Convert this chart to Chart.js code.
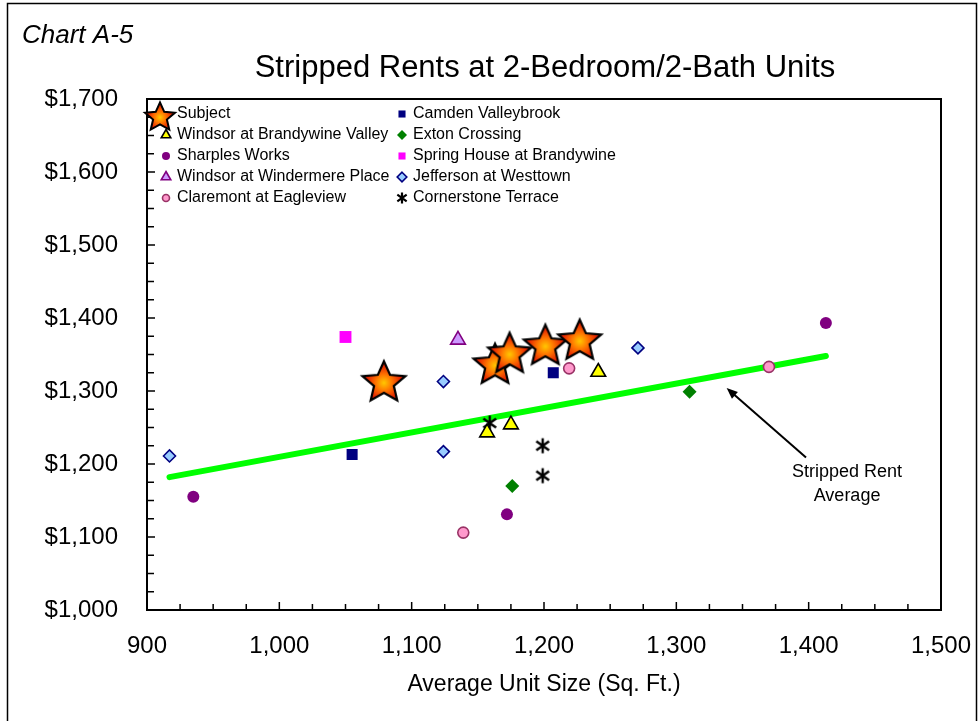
<!DOCTYPE html>
<html>
<head>
<meta charset="utf-8">
<title>Stripped Rents at 2-Bedroom/2-Bath Units</title>
<script src="https://cdn.jsdelivr.net/npm/chart.js@4/dist/chart.umd.min.js"></script>
<style>
  html, body { margin: 0; padding: 0; background: #fff; }
  canvas { display: block; }
</style>
</head>
<body>
<canvas id="chart" width="980" height="721"></canvas>
<script>
const FONT = 'Arial, "Liberation Sans", sans-serif';

// Each property: [average unit size (sq. ft.), stripped rent ($)]
const subject            = [[1079, 1314], [1163, 1338], [1174, 1353], [1201, 1364], [1227, 1371]];
const windsorBrandywine  = [[1241, 1326], [1157, 1243], [1175, 1254]];
const sharplesWorks      = [[935, 1155], [1172, 1131], [1413, 1393]];
const windsorWindermere  = [[1135, 1370]];
const claremontEagleview = [[1219, 1331], [1139, 1106], [1370, 1333]];
const camdenValleybrook  = [[1207, 1325], [1055, 1213]];
const extonCrossing      = [[1176, 1170], [1310, 1299]];
const springHouse        = [[1050, 1374]];
const jeffersonWesttown  = [[1271, 1359], [1124, 1313], [917, 1211], [1124, 1217]];
const cornerstoneTerrace = [[1159, 1256], [1199, 1225], [1199, 1184]];

// Stripped rent average (trend), end points
const rentAverage = [[917, 1182], [1413, 1348]];

// Axis ticks
const xTickValues = [900, 1000, 1100, 1200, 1300, 1400, 1500];
const yTickValues = [1000, 1100, 1200, 1300, 1400, 1500, 1600, 1700];

// Callout for the average line (in axis units)
const calloutArrow = { from: [1398, 1209], to: [1338, 1304] };
const calloutText = ['Stripped Rent', 'Average'];
const calloutAt = [1429, 1189];

const toPoints = arr => arr.map(([x, y]) => ({ x, y }));

// ---------- custom marker images ----------
function starMarker(r, lw) {
  const s = Math.ceil(2 * r + 2 * lw + 4);
  const c = document.createElement('canvas');
  c.width = s; c.height = s;
  const g = c.getContext('2d');
  const cx = s / 2, cy = s / 2 + r * 0.095;
  g.beginPath();
  for (let i = 0; i < 10; i++) {
    const rr = i % 2 ? r * 0.46 : r;
    const a = -Math.PI / 2 + i * Math.PI / 5;
    g.lineTo(cx + rr * Math.cos(a) * 1.05, cy + rr * Math.sin(a));
  }
  g.closePath();
  const grad = g.createRadialGradient(cx, cy, 0, cx, cy, r * 0.8);
  grad.addColorStop(0, '#FFC800');
  grad.addColorStop(0.45, '#FF7A00');
  grad.addColorStop(1, '#E62200');
  g.fillStyle = grad;
  g.fill();
  g.lineWidth = lw;
  g.strokeStyle = '#000';
  g.lineJoin = 'miter';
  g.stroke();
  return c;
}

function asteriskMarker(h, lw) {
  const s = Math.ceil(h + lw * 2);
  const c = document.createElement('canvas');
  c.width = s; c.height = s;
  const g = c.getContext('2d');
  const m = s / 2, k = h / 2;
  g.strokeStyle = '#000';
  g.lineWidth = lw;
  g.beginPath();
  g.moveTo(m, m - k); g.lineTo(m, m + k);
  g.moveTo(m - k * 0.85, m - k * 0.6); g.lineTo(m + k * 0.85, m + k * 0.6);
  g.moveTo(m + k * 0.85, m - k * 0.6); g.lineTo(m - k * 0.85, m + k * 0.6);
  g.stroke();
  return c;
}

const bigStar = starMarker(21.5, 2.2);
const legendStar = starMarker(15, 2);
const asterisk = asteriskMarker(15, 2.4);
const legendAsterisk = asteriskMarker(11, 2.2);

// ---------- series ----------
const series = [
  { label: 'Subject', data: subject, pointStyle: bigStar, legendStyle: legendStar, radius: 21, legendRadius: 15, bg: '#FF8C00', border: '#000', bw: 0 },
  { label: 'Windsor at Brandywine Valley', data: windsorBrandywine, pointStyle: 'triangle', radius: 8.5, legendRadius: 5.5, bg: '#FFFF00', border: '#000', bw: 1.6 },
  { label: 'Sharples Works', data: sharplesWorks, pointStyle: 'circle', radius: 6, legendRadius: 4, bg: '#800080', border: '#800080', bw: 0 },
  { label: 'Windsor at Windermere Place', data: windsorWindermere, pointStyle: 'triangle', radius: 8.5, legendRadius: 5.5, bg: '#CC99FF', border: '#800080', bw: 1.6 },
  { label: 'Claremont at Eagleview', data: claremontEagleview, pointStyle: 'circle', radius: 5.5, legendRadius: 3.5, bg: '#FF99CC', border: '#993366', bw: 1.6 },
  { label: 'Camden Valleybrook', data: camdenValleybrook, pointStyle: 'rect', radius: 7.8, legendRadius: 5, bg: '#000080', border: '#000080', bw: 0 },
  { label: 'Exton Crossing', data: extonCrossing, pointStyle: 'rectRot', radius: 7, legendRadius: 5, bg: '#008000', border: '#008000', bw: 0 },
  { label: 'Spring House at Brandywine', data: springHouse, pointStyle: 'rect', radius: 8.4, legendRadius: 5, bg: '#FF00FF', border: '#FF00FF', bw: 0 },
  { label: 'Jefferson at Westtown', data: jeffersonWesttown, pointStyle: 'rectRot', radius: 6, legendRadius: 4.8, bg: '#99CCFF', border: '#000080', bw: 1.6 },
  { label: 'Cornerstone Terrace', data: cornerstoneTerrace, pointStyle: asterisk, legendStyle: legendAsterisk, radius: 7, legendRadius: 5, bg: '#000', border: '#000', bw: 0 }
];

const datasets = series.map(s => ({
  label: s.label,
  data: toPoints(s.data),
  pointStyle: s.pointStyle,
  pointRadius: s.radius,
  pointHoverRadius: s.radius,
  backgroundColor: s.bg,
  borderColor: s.border,
  borderWidth: s.bw,
  order: 0
}));

datasets.push({
  label: 'Stripped Rent Average',
  data: toPoints(rentAverage),
  showLine: true,
  borderColor: '#00FF00',
  borderWidth: 6,
  borderCapStyle: 'round',
  pointRadius: 0,
  pointHoverRadius: 0,
  order: 1
});

// ---------- drawing helpers ----------
function drawMarker(ctx, s, x, y) {
  const style = s.legendStyle || s.pointStyle;
  const r = s.legendRadius;
  ctx.save();
  if (typeof style !== 'string') {
    ctx.drawImage(style, x - style.width / 2, y - style.height / 2);
    ctx.restore();
    return;
  }
  ctx.fillStyle = s.bg;
  ctx.strokeStyle = s.border;
  ctx.lineWidth = s.bw;
  ctx.beginPath();
  if (style === 'circle') {
    ctx.arc(x, y, r, 0, Math.PI * 2);
  } else if (style === 'rect') {
    const h = r * Math.SQRT1_2;
    ctx.rect(x - h, y - h, 2 * h, 2 * h);
  } else if (style === 'rectRot') {
    ctx.moveTo(x, y - r); ctx.lineTo(x + r, y); ctx.lineTo(x, y + r); ctx.lineTo(x - r, y);
    ctx.closePath();
  } else if (style === 'triangle') {
    for (let i = 0; i < 3; i++) {
      const a = -Math.PI / 2 + i * 2 * Math.PI / 3;
      ctx.lineTo(x + r * Math.cos(a), y + r * Math.sin(a));
    }
    ctx.closePath();
  }
  ctx.fill();
  if (s.bw > 0) ctx.stroke();
  ctx.restore();
}

const decorations = {
  id: 'decorations',
  beforeDraw(chart) {
    const ctx = chart.ctx;
    ctx.save();
    ctx.fillStyle = '#fff';
    ctx.fillRect(0, 0, chart.width, chart.height);
    ctx.strokeStyle = '#000';
    ctx.lineWidth = 1.5;
    ctx.strokeRect(7.5, 3.5, 969, 740);
    ctx.fillStyle = '#000';
    ctx.textBaseline = 'middle';
    ctx.textAlign = 'left';
    ctx.font = 'italic 26px ' + FONT;
    ctx.fillText('Chart A-5', 22, 36);
    ctx.textAlign = 'center';
    ctx.font = '31px ' + FONT;
    ctx.fillText('Stripped Rents at 2-Bedroom/2-Bath Units', 545, 68);
    ctx.restore();
  },
  beforeDatasetsDraw(chart) {
    const { ctx, chartArea: a, scales: { x, y } } = chart;
    ctx.save();
    ctx.strokeStyle = '#000';
    ctx.lineWidth = 2;
    ctx.strokeRect(a.left, a.top, a.right - a.left, a.bottom - a.top);
    ctx.lineWidth = 1.5;
    ctx.beginPath();
    for (let v = y.min; v <= y.max; v += 25) {
      const p = y.getPixelForValue(v);
      ctx.moveTo(a.left, p);
      ctx.lineTo(a.left + (v % 100 === 0 ? 8 : 7), p);
    }
    for (let v = x.min; v <= x.max; v += 25) {
      const p = x.getPixelForValue(v);
      ctx.moveTo(p, a.bottom);
      ctx.lineTo(p, a.bottom - (v % 100 === 0 ? 8 : 6));
    }
    ctx.stroke();
    ctx.restore();
  },
  afterDatasetsDraw(chart) {
    const { ctx, scales: { x, y } } = chart;
    ctx.save();
    // legend, two columns
    ctx.font = '16px ' + FONT;
    ctx.fillStyle = '#000';
    ctx.textBaseline = 'middle';
    ctx.textAlign = 'left';
    series.forEach((s, i) => {
      const col = Math.floor(i / 5), row = i % 5;
      const ty = 114 + row * 21;
      const mx = col === 0 ? 166 : 402;
      const tx = col === 0 ? 177 : 413;
      if (i === 0) drawMarker(ctx, s, 160, ty + 2);
      else drawMarker(ctx, s, mx, ty);
      ctx.fillStyle = '#000';
      ctx.fillText(s.label, tx, ty);
    });

    // callout arrow to the average line
    const x1 = x.getPixelForValue(calloutArrow.from[0]), y1 = y.getPixelForValue(calloutArrow.from[1]);
    const x2 = x.getPixelForValue(calloutArrow.to[0]), y2 = y.getPixelForValue(calloutArrow.to[1]);
    const ang = Math.atan2(y2 - y1, x2 - x1);
    ctx.strokeStyle = '#000';
    ctx.lineWidth = 2;
    ctx.beginPath();
    ctx.moveTo(x1, y1);
    ctx.lineTo(x2 - 6 * Math.cos(ang), y2 - 6 * Math.sin(ang));
    ctx.stroke();
    ctx.fillStyle = '#000';
    ctx.beginPath();
    ctx.moveTo(x2, y2);
    ctx.lineTo(x2 - 11 * Math.cos(ang) + 4.5 * Math.sin(ang), y2 - 11 * Math.sin(ang) - 4.5 * Math.cos(ang));
    ctx.lineTo(x2 - 11 * Math.cos(ang) - 4.5 * Math.sin(ang), y2 - 11 * Math.sin(ang) + 4.5 * Math.cos(ang));
    ctx.closePath();
    ctx.fill();

    ctx.font = '18px ' + FONT;
    ctx.textAlign = 'center';
    const cx = x.getPixelForValue(calloutAt[0]);
    const cy = y.getPixelForValue(calloutAt[1]);
    calloutText.forEach((t, i) => ctx.fillText(t, cx, cy + i * 24));
    ctx.restore();
  }
};

new Chart(document.getElementById('chart'), {
  type: 'scatter',
  data: { datasets },
  options: {
    responsive: false,
    animation: false,
    events: [],
    layout: { padding: { top: 99, right: 39, left: 0, bottom: 0 } },
    plugins: {
      legend: { display: false },
      tooltip: { enabled: false },
      title: { display: false }
    },
    scales: {
      x: {
        type: 'linear',
        min: xTickValues[0],
        max: xTickValues[xTickValues.length - 1],
        afterFit: s => { s.height = 111; s.paddingLeft = 0; s.paddingRight = 0; },
        ticks: {
          stepSize: xTickValues[1] - xTickValues[0],
          padding: 22,
          color: '#000',
          font: { family: FONT, size: 24 },
          callback: v => v.toLocaleString('en-US')
        },
        grid: { drawOnChartArea: false, drawTicks: false },
        border: { display: true, color: '#000', width: 2 },
        title: {
          display: true,
          text: 'Average Unit Size (Sq. Ft.)',
          color: '#000',
          font: { family: FONT, size: 23 },
          padding: { top: 0, bottom: 23 }
        }
      },
      y: {
        type: 'linear',
        min: yTickValues[0],
        max: yTickValues[yTickValues.length - 1],
        afterFit: s => { s.width = 147; s.paddingTop = 0; s.paddingBottom = 0; },
        ticks: {
          stepSize: yTickValues[1] - yTickValues[0],
          padding: 29,
          color: '#000',
          font: { family: FONT, size: 24 },
          callback: v => '$' + v.toLocaleString('en-US')
        },
        grid: { drawOnChartArea: false, drawTicks: false },
        border: { display: true, color: '#000', width: 2 }
      }
    }
  },
  plugins: [decorations]
});
</script>
</body>
</html>
